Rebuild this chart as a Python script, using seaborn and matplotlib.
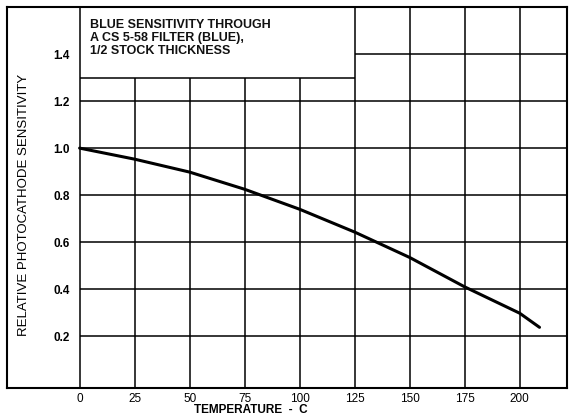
import matplotlib
matplotlib.use("Agg")
import matplotlib.pyplot as plt
import seaborn as sns
import pandas as pd

# Data
temperature = [0, 25, 50, 75, 100, 125, 150, 175, 200, 209]
sensitivity = [1.0, 0.953, 0.898, 0.825, 0.74, 0.643, 0.535, 0.41, 0.298, 0.238]

x_ticks = [0, 25, 50, 75, 100, 125, 150, 175, 200]
y_ticks = [0.2, 0.4, 0.6, 0.8, 1.0, 1.2, 1.4]
y_tick_labels = ["0.2", "0.4", "0.6", "0.8", "1.0", "1.2", "1.4"]
box_lines = ["BLUE SENSITIVITY THROUGH", "A CS 5-58 FILTER (BLUE),", "1/2 STOCK THICKNESS"]
y_label = "RELATIVE PHOTOCATHODE SENSITIVITY"
x_label = "TEMPERATURE  -  C"

sns.set_theme(style="white")
plt.rcParams["font.family"] = ["Liberation Sans", "DejaVu Sans"]

df = pd.DataFrame({"temperature": temperature, "sensitivity": sensitivity})

W, H = 569, 417
fig = plt.figure(figsize=(W / 100, H / 100), dpi=100)
ax = fig.add_axes([7 / W, 1 - 388 / H, 560 / W, 381 / H])
xmin, xmax = -33, 221.5
ymin, ymax = -0.02, 1.6
ax.set_xlim(xmin, xmax)
ax.set_ylim(ymin, ymax)

box_right = 125
box_bottom = 1.3
grid_kw = dict(color="black", linewidth=1.1, zorder=1)

# vertical grid lines
for t in x_ticks:
    top = ymax if (t == 0 or t >= box_right) else box_bottom
    ax.vlines(t, ymin, top, **grid_kw)
# horizontal grid lines
for v in y_ticks:
    start = 0 if v < box_bottom else box_right
    ax.hlines(v, start, xmax, **grid_kw)
# box bottom edge
ax.hlines(box_bottom, 0, box_right, **grid_kw)

sns.lineplot(data=df, x="temperature", y="sensitivity", ax=ax,
             color="black", linewidth=2.2, zorder=3)

ax.text(4.5, 1.55, "\n".join(box_lines), ha="left", va="top",
        fontsize=9, fontweight="bold", color="#111111", linespacing=1.1)

ax.set_xticks(x_ticks)
ax.set_xticklabels([str(t) for t in x_ticks], fontsize=8.5)
ax.set_yticks(y_ticks)
ax.set_yticklabels(y_tick_labels, fontsize=8.5, fontweight="bold")
ax.tick_params(axis="x", length=0, pad=3.5, colors="black")
ax.tick_params(axis="y", length=0, pad=-45, colors="black")
ax.set_xlabel("")
ax.set_ylabel("")

for s in ax.spines.values():
    s.set_color("black")
    s.set_linewidth(1.5)

fig.text(24 / W, 1 - 205 / H, y_label, rotation=90, ha="center", va="center",
         fontsize=9.5, color="black")
fig.text(251 / W, 1 - 410 / H, x_label, ha="center", va="center",
         fontsize=8.5, fontweight="bold", color="black")

fig.savefig("out.png", dpi=100, facecolor="white")
